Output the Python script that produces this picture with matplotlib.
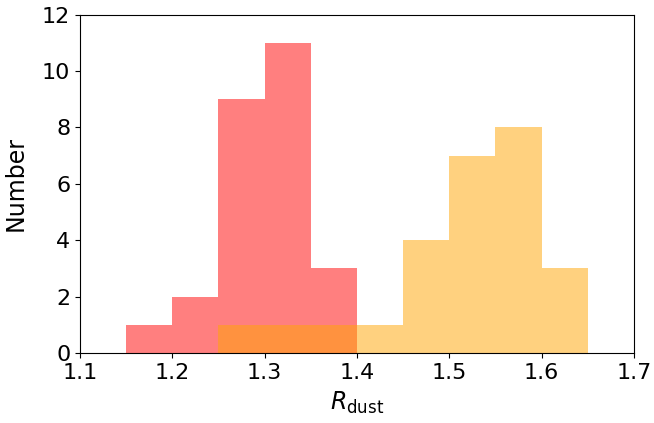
import numpy as np
import matplotlib.pyplot as plt

# bin edges and counts for the two samples
red_edges = [1.15, 1.20, 1.25, 1.30, 1.35, 1.40]
red_counts = [1, 2, 9, 11, 3]

orange_edges = [1.25, 1.30, 1.35, 1.40, 1.45, 1.50, 1.55, 1.60, 1.65]
orange_counts = [1, 1, 1, 1, 4, 7, 8, 3]

xticks = [1.1, 1.2, 1.3, 1.4, 1.5, 1.6, 1.7]
yticks = [0, 2, 4, 6, 8, 10, 12]

fig = plt.figure(figsize=(6.54, 4.23), dpi=100)
ax = fig.add_axes([0.1223, 0.1655, 0.847, 0.800])

red_centers = (np.array(red_edges[:-1]) + np.array(red_edges[1:])) / 2
orange_centers = (np.array(orange_edges[:-1]) + np.array(orange_edges[1:])) / 2

ax.hist(red_centers, bins=red_edges, weights=red_counts, color='red', alpha=0.5)
ax.hist(orange_centers, bins=orange_edges, weights=orange_counts, color='orange', alpha=0.5)

ax.set_xlim(1.1, 1.7)
ax.set_ylim(0, 12)
ax.set_xticks(xticks)
ax.set_yticks(yticks)
ax.tick_params(labelsize=16)
ax.set_xlabel(r'$R_{\rm dust}$', fontsize=17, labelpad=5)
ax.set_ylabel('Number', fontsize=17, labelpad=10)

fig.savefig('out.png', dpi=100)
